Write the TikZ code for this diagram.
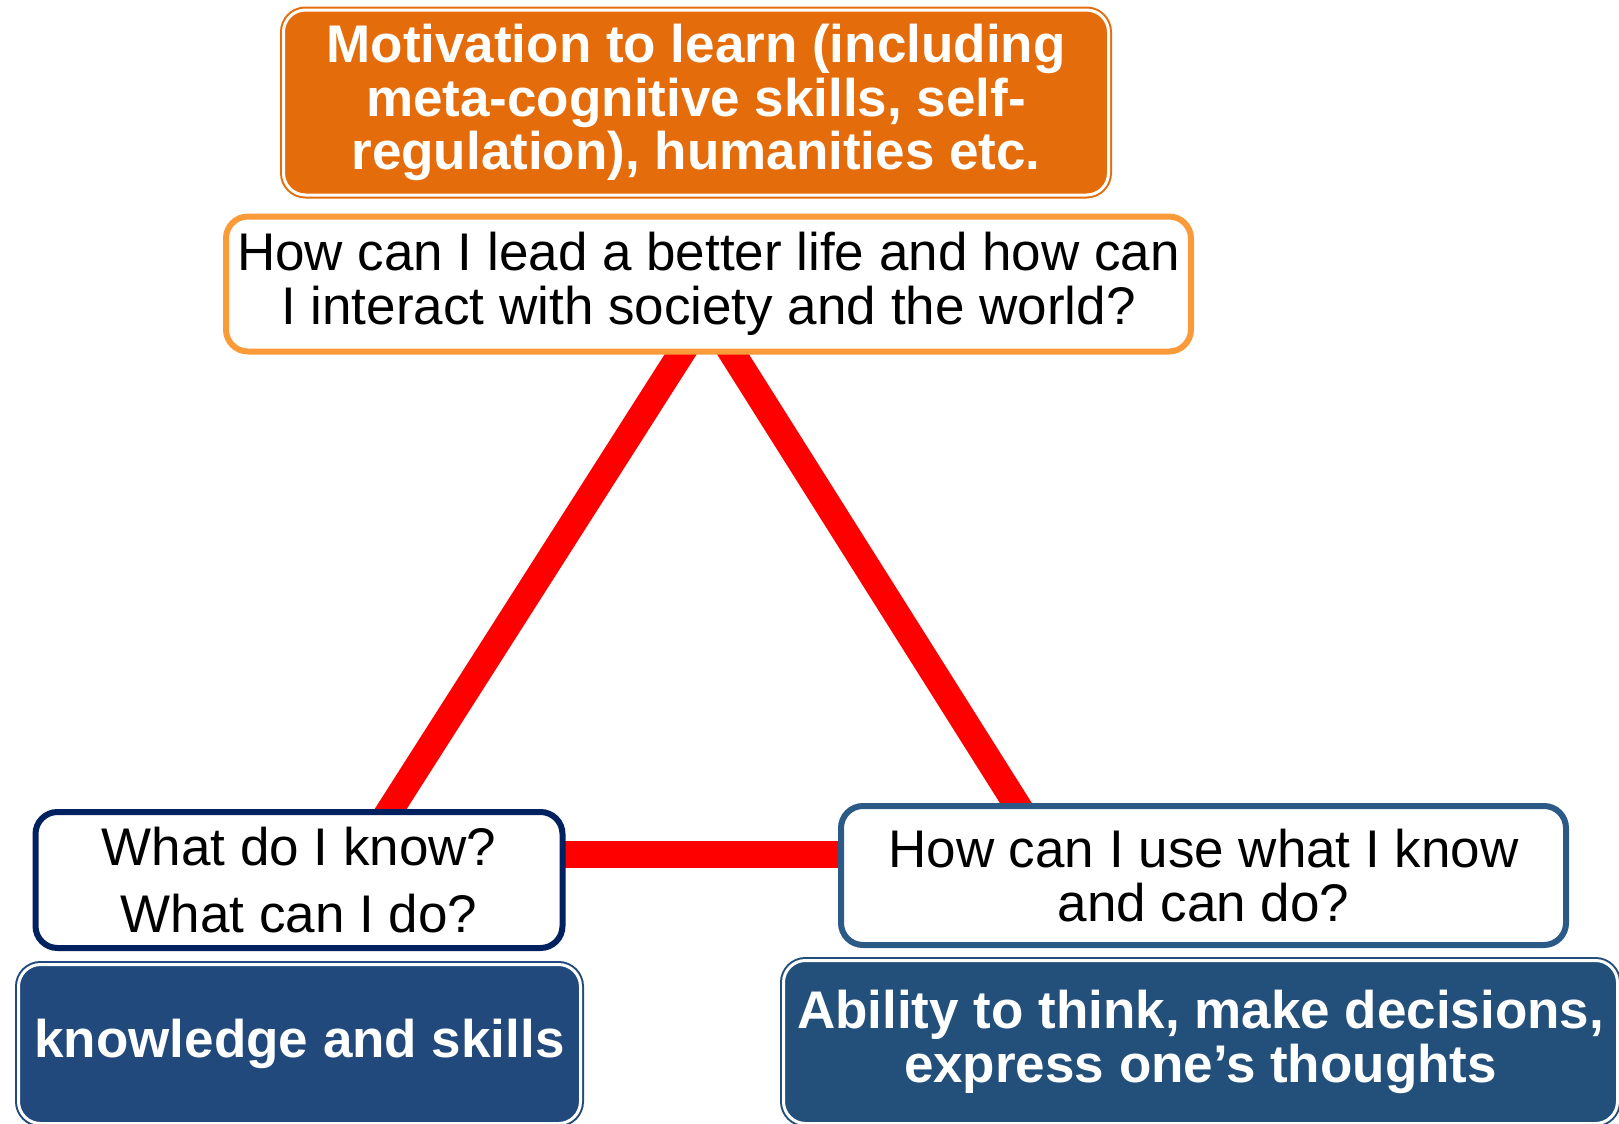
\documentclass[tikz,border=0pt]{standalone}
\usepackage{fontspec}
\setmainfont{Liberation Sans}
\definecolor{motorange}{HTML}{E46C0A}
\definecolor{qorange}{HTML}{FA9A38}
\definecolor{qnavy}{HTML}{002060}
\definecolor{qsteel}{HTML}{2B5A87}
\definecolor{blueA}{HTML}{21497C}
\definecolor{blueB}{HTML}{23507B}
\definecolor{linered}{HTML}{FF0000}
\tikzset{
  boxbase/.style={rectangle, rounded corners=11pt, inner sep=0pt, align=center},
  bigbox/.style={boxbase, draw=#1, fill=#1, line width=1pt, double=white, double distance=1.5pt,
     text=white, font=\fontsize{26.5}{26.75}\selectfont\bfseries},
  qbox/.style={boxbase, draw=#1, fill=white, line width=3pt, text=black,
     font=\fontsize{26.5}{26.75}\selectfont},
  redline/.style={draw=linered, line width=13.5pt}
}
\begin{document}
\begin{tikzpicture}[x=0.5pt,y=-0.5pt]
\useasboundingbox (0,0) rectangle (1619,1124);
% triangle vertices (hidden behind boxes)
\coordinate (apex) at (707,313);
\coordinate (vl) at (362,854);
\coordinate (vr) at (1048,854);
\draw[redline] (apex) -- (vl);
\draw[redline] (apex) -- (vr);
\draw[redline] (vl) -- (vr);
% top
\node[bigbox=motorange, minimum width=412.5pt, minimum height=92.5pt] (mot) at (696,102.5)
  {Motivation to learn (including\\meta-cognitive skills, self-\\regulation), humanities etc.};
\node[qbox=qorange, minimum width=482.5pt, minimum height=67.5pt] (q1) at (708.5,284)
  {How can I lead a better life and how can\\I interact with society and the world?};
% bottom left
\node[qbox=qnavy, minimum width=263.5pt, minimum height=68pt,
      font=\fontsize{26.5}{33.5}\selectfont] (q2) at (299,880)
  {What do I know?\\What can I do?};
\node[bigbox=blueA, minimum width=281pt, minimum height=79.5pt] (ks) at (299.5,1044)
  {knowledge and skills};
% bottom right
\node[qbox=qsteel, minimum width=362.5pt, minimum height=69.5pt] (q3) at (1203.5,875.5)
  {How can I use what I know\\and can do?};
\node[bigbox=blueB, minimum width=417pt, minimum height=81.5pt] (ab) at (1200.5,1042)
  {Ability to think, make decisions,\\express one’s thoughts};
\end{tikzpicture}
\end{document}
